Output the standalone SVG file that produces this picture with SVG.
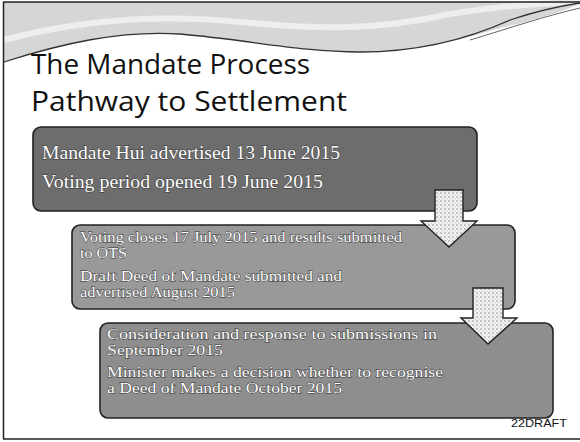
<svg xmlns="http://www.w3.org/2000/svg" width="580" height="442" viewBox="0 0 580 442">
<defs>
<pattern id="dots" width="4" height="4" patternUnits="userSpaceOnUse">
<rect width="4" height="4" fill="#f2f2f2"/>
<circle cx="1" cy="1" r="0.7" fill="#777"/>
<circle cx="3" cy="3" r="0.5" fill="#aaa"/>
</pattern>
<style>
.box{stroke:#222;stroke-width:1.6}
.t{font-family:"Liberation Serif","DejaVu Serif",serif;fill:#fff;stroke:#333;stroke-width:0.8;paint-order:stroke}
.arrow{fill:url(#dots);stroke:#222;stroke-width:1.4;stroke-linejoin:miter}
.title{font-family:"Open Sans","Noto Sans",sans-serif;font-size:28px;fill:#111}
</style>
</defs>
<rect width="580" height="442" fill="#fff"/>
<!-- decorative swoosh -->
<path d="M4,2 L580,2 L580,4 C560,12 530,22 500,28 C460,40 420,52 360,52 C300,52 250,40 180,34 C120,30 60,44 4,62 Z" fill="#d6d6d6"/>
<path d="M4,40 C80,20 160,14 240,22 C320,30 380,30 450,14 C500,6 540,3 580,2" fill="none" stroke="#eee" stroke-width="6"/>
<path d="M4,62 C60,44 120,30 180,34 C250,40 300,52 360,52 C420,52 470,38 510,20 C540,10 560,6 580,3" fill="none" stroke="#333" stroke-width="1.3"/>
<path d="M470,40 C510,28 545,16 580,8" fill="none" stroke="#666" stroke-width="1"/>
<!-- frame -->
<path d="M3,2 L580,2 M3.5,2 L3.5,439 M3,439 L580,439" fill="none" stroke="#222" stroke-width="1.5"/>
<g id="title">
<text class="title" x="31" y="74" textLength="279" lengthAdjust="spacingAndGlyphs">The Mandate Process</text>
<text class="title" x="31" y="111" textLength="316" lengthAdjust="spacingAndGlyphs">Pathway to Settlement</text>
</g>
<g id="box1">
<rect class="box" x="33" y="127" width="444" height="84" rx="8" fill="#6d6d6d"/>
<text class="t" x="42" y="159" font-size="18" textLength="298" lengthAdjust="spacingAndGlyphs">Mandate Hui advertised 13 June 2015</text>
<text class="t" x="42" y="188" font-size="18" textLength="281" lengthAdjust="spacingAndGlyphs">Voting period opened 19 June 2015</text>
</g>
<g id="box2">
<rect class="box" x="72" y="225" width="443" height="84" rx="8" fill="#999"/>
<text class="t" x="80" y="242" font-size="14.5" textLength="322" lengthAdjust="spacingAndGlyphs">Voting closes 17 July 2015 and results submitted</text>
<text class="t" x="80" y="258" font-size="14.5" textLength="47" lengthAdjust="spacingAndGlyphs">to OTS</text>
<text class="t" x="80" y="281" font-size="14.5" textLength="262" lengthAdjust="spacingAndGlyphs">Draft Deed of Mandate submitted and</text>
<text class="t" x="80" y="297" font-size="14.5" textLength="155" lengthAdjust="spacingAndGlyphs">advertised August 2015</text>
</g>
<g id="box3">
<rect class="box" x="100" y="323" width="453" height="95" rx="8" fill="#8e8e8e"/>
<text class="t" x="107" y="339" font-size="14.5" textLength="330" lengthAdjust="spacingAndGlyphs">Consideration and response to submissions in</text>
<text class="t" x="107" y="355" font-size="14.5" textLength="116" lengthAdjust="spacingAndGlyphs">September 2015</text>
<text class="t" x="107" y="377" font-size="14.5" textLength="336" lengthAdjust="spacingAndGlyphs">Minister makes a decision whether to recognise</text>
<text class="t" x="107" y="393" font-size="14.5" textLength="235" lengthAdjust="spacingAndGlyphs">a Deed of Mandate October 2015</text>
</g>
<g id="connectors">
<path class="arrow" d="M435,190 L463,190 L463,221 L477,221 L449,247 L421,221 L435,221 Z"/>
<path class="arrow" d="M473,288 L503,288 L503,318 L517,318 L488,344 L461,318 L473,318 Z"/>
</g>
<g id="footer">
<text x="511" y="427" textLength="56" lengthAdjust="spacingAndGlyphs" font-family="Liberation Sans,Arial,sans-serif" font-size="10.5" fill="#111">22DRAFT</text>
</g>
</svg>
